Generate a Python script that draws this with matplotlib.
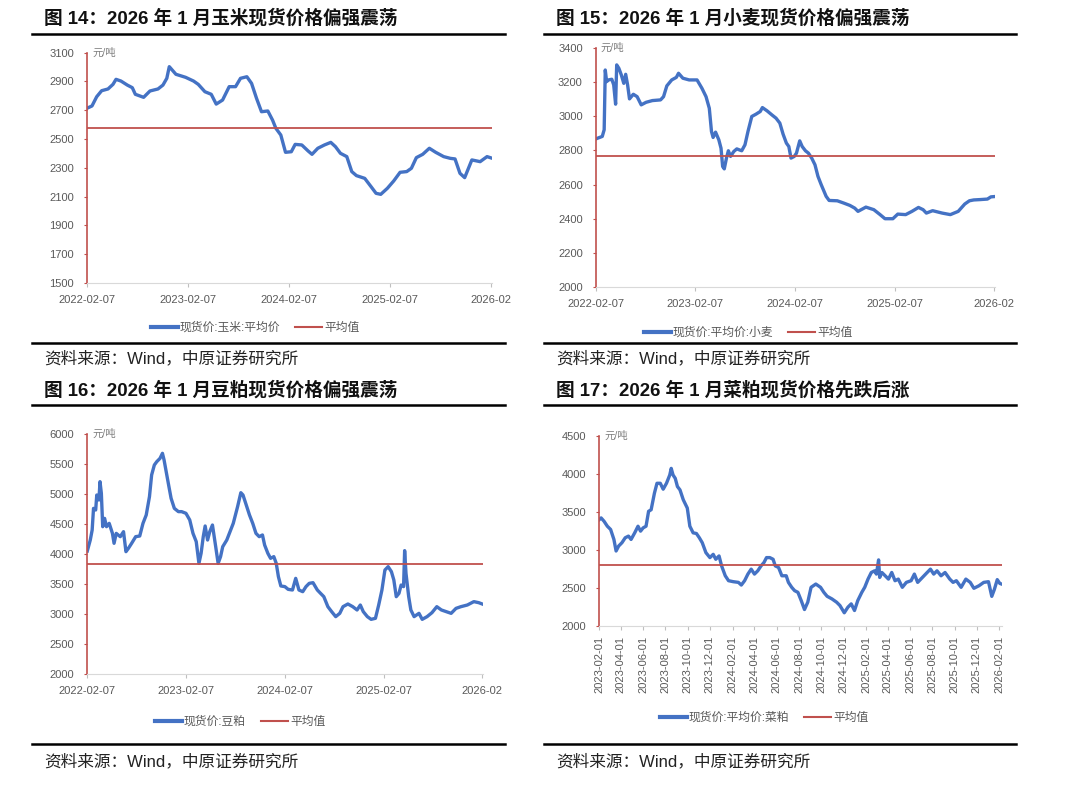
import pandas as pd
import matplotlib.pyplot as plt
from matplotlib.lines import Line2D

plt.rcParams['font.family'] = ['Liberation Sans', 'Noto Sans CJK SC']
plt.rcParams['axes.unicode_minus'] = False

BLUE = '#4472C4'
RED = '#C0504D'
GRAY = '#595959'
W, H = 1080, 795

# ================= DATA =================
# 玉米 (days since 2022-02-07)
corn_day = [0, 17, 34, 52, 75, 93, 104, 122, 145, 163, 174, 204, 227, 256, 274, 288, 297,
            321, 356, 385, 402, 426, 449, 467, 490, 514, 537, 555, 578, 595, 613, 631, 654,
            671, 683, 701, 718, 739, 753, 777, 800, 814, 835, 859, 882, 899, 917, 940, 958,
            975, 1005, 1028, 1046, 1063, 1087, 1110, 1133, 1157, 1174, 1192, 1215, 1239,
            1262, 1291, 1315, 1332, 1350, 1367, 1393, 1423, 1448, 1466]
corn_price = [2715, 2730, 2794, 2836, 2848, 2880, 2915, 2903, 2875, 2857, 2811, 2790, 2834,
              2848, 2875, 2922, 3003, 2950, 2929, 2903, 2880, 2829, 2811, 2743, 2771, 2864,
              2864, 2922, 2933, 2887, 2783, 2690, 2695, 2632, 2575, 2528, 2408, 2412, 2463,
              2459, 2417, 2394, 2436, 2459, 2477, 2447, 2401, 2378, 2274, 2246, 2227, 2169,
              2123, 2116, 2158, 2209, 2269, 2274, 2297, 2371, 2394, 2436, 2408, 2378, 2366,
              2362, 2262, 2232, 2355, 2343, 2378, 2367]
corn_avg = 2580

# 小麦 (days since 2022-02-07)
wheat_day = [0, 23, 30, 34, 39, 46, 58, 65, 72, 76, 84, 93, 102, 109, 116, 123, 137, 151,
             166, 184, 207, 237, 248, 260, 278, 295, 303, 319, 342, 371, 389, 404, 416, 424,
             430, 439, 451, 459, 465, 471, 479, 486, 494, 506, 517, 535, 547, 558, 572, 587,
             603, 611, 628, 646, 661, 675, 687, 699, 708, 716, 728, 736, 748, 757, 769, 780,
             792, 804, 815, 827, 845, 856, 886, 909, 932, 950, 962, 991, 1020, 1043, 1061,
             1090, 1108, 1137, 1160, 1184, 1201, 1213, 1236, 1271, 1301, 1330, 1354, 1371,
             1387, 1410, 1437, 1450, 1465]
wheat_price = [2868, 2882, 2921, 3271, 3203, 3213, 3217, 3184, 3071, 3301, 3281, 3242, 3193,
               3246, 3184, 3102, 3129, 3115, 3067, 3082, 3092, 3096, 3115, 3178, 3213, 3228,
               3252, 3223, 3213, 3213, 3164, 3115, 3047, 2911, 2876, 2907, 2862, 2813, 2706,
               2692, 2755, 2798, 2765, 2794, 2809, 2798, 2833, 2911, 2999, 3012, 3028, 3051,
               3032, 3008, 2989, 2960, 2895, 2843, 2823, 2755, 2765, 2784, 2856, 2823, 2798,
               2784, 2755, 2716, 2648, 2599, 2531, 2507, 2505, 2492, 2478, 2462, 2443, 2468,
               2453, 2424, 2400, 2400, 2427, 2424, 2443, 2466, 2453, 2433, 2447, 2433, 2424,
               2443, 2486, 2505, 2510, 2512, 2515, 2528, 2530]
wheat_avg = 2770

# 豆粕 (days since 2022-02-07)
soy_day = [0, 11, 18, 23, 31, 35, 43, 47, 52, 57, 64, 71, 81, 93, 99, 107, 122, 134, 143,
           152, 164, 179, 194, 206, 218, 230, 238, 248, 257, 269, 278, 284, 293, 302, 310,
           322, 337, 349, 365, 379, 391, 403, 413, 421, 429, 436, 445, 453, 463, 475, 484,
           493, 501, 516, 528, 540, 556, 568, 576, 588, 600, 612, 624, 636, 648, 656, 668,
           678, 690, 699, 707, 716, 731, 743, 759, 771, 783, 797, 809, 821, 835, 851, 863,
           875, 890, 904, 919, 934, 946, 964, 982, 998, 1010, 1021, 1036, 1050, 1066, 1078,
           1090, 1101, 1113, 1125, 1134, 1143, 1153, 1161, 1170, 1174, 1179, 1189, 1197,
           1209, 1227, 1239, 1257, 1275, 1293, 1310, 1328, 1346, 1364, 1382, 1406, 1430,
           1448, 1465]
soy_price = [4050, 4233, 4400, 4761, 4733, 4983, 4900, 5206, 5011, 4455, 4594, 4455, 4511,
             4344, 4178, 4344, 4289, 4372, 4039, 4094, 4178, 4289, 4300, 4511, 4650, 4956,
             5317, 5483, 5539, 5594, 5678, 5567, 5344, 5122, 4928, 4761, 4706, 4706, 4678,
             4567, 4344, 4206, 3844, 4011, 4289, 4467, 4233, 4372, 4483, 4122, 3844, 3956,
             4122, 4233, 4372, 4511, 4789, 5022, 4983, 4817, 4650, 4511, 4344, 4289, 4317,
             4150, 4011, 3928, 3956, 3844, 3622, 3467, 3456, 3411, 3400, 3594, 3400, 3372,
             3456, 3511, 3522, 3400, 3344, 3289, 3122, 3039, 2956, 3011, 3122, 3167, 3122,
             3067, 3150, 3039, 2956, 2911, 2928, 3150, 3400, 3733, 3789, 3706, 3567, 3289,
             3344, 3483, 3456, 4056, 3678, 3289, 3067, 2956, 3011, 2911, 2956, 3022, 3122,
             3067, 3039, 3011, 3094, 3122, 3150, 3206, 3189, 3160]
soy_avg = 3830

# 菜粕 (days since 2023-02-01)
rape_day = [0, 5, 13, 22, 31, 40, 46, 53, 62, 71, 80, 87, 97, 106, 113, 120, 128, 135, 142,
            151, 158, 167, 175, 184, 193, 197, 202, 208, 214, 221, 230, 241, 248, 257, 266,
            274, 282, 292, 303, 312, 319, 328, 335, 345, 354, 367, 381, 389, 398, 407, 416,
            425, 434, 443, 451, 458, 467, 476, 482, 491, 500, 512, 518, 527, 535, 544, 553,
            562, 571, 580, 593, 606, 615, 624, 637, 650, 659, 671, 681, 690, 699, 708, 719,
            727, 736, 745, 754, 759, 765, 768, 774, 783, 792, 801, 810, 819, 830, 841, 854,
            863, 872, 885, 898, 907, 916, 925, 936, 947, 960, 969, 978, 991, 1004, 1016,
            1026, 1040, 1053, 1066, 1075, 1082, 1090, 1097, 1103]
rape_price = [3400, 3422, 3378, 3313, 3270, 3139, 2987, 3052, 3096, 3161, 3183, 3139, 3226,
              3313, 3248, 3291, 3313, 3509, 3530, 3748, 3878, 3878, 3800, 3878, 3987, 4074,
              3987, 3943, 3835, 3791, 3661, 3552, 3313, 3226, 3217, 3161, 3096, 2965, 2900,
              2943, 2878, 2922, 2791, 2661, 2596, 2583, 2574, 2539, 2596, 2683, 2748, 2683,
              2726, 2791, 2835, 2900, 2900, 2878, 2791, 2770, 2661, 2661, 2574, 2509, 2465,
              2443, 2335, 2217, 2313, 2509, 2552, 2509, 2443, 2391, 2357, 2313, 2270, 2174,
              2248, 2291, 2204, 2335, 2443, 2509, 2617, 2704, 2726, 2683, 2870, 2639, 2704,
              2661, 2617, 2704, 2596, 2617, 2509, 2574, 2596, 2683, 2574, 2639, 2704, 2748,
              2683, 2726, 2661, 2704, 2617, 2574, 2596, 2509, 2617, 2574, 2496, 2530, 2574,
              2583, 2390, 2480, 2610, 2560, 2550]
rape_avg = 2800

year_ticks = ['2022-02-07', '2023-02-07', '2024-02-07', '2025-02-07', '2026-02-07']
year_labels = ['2022-02-07', '2023-02-07', '2024-02-07', '2025-02-07', '2026-02']
month_ticks = pd.date_range('2023-02-01', '2026-02-01', freq='2MS')
month_labels = [d.strftime('%Y-%m-%d') for d in month_ticks]


def px_rect(l, t, r, b):
    return [l / W, 1 - b / H, (r - l) / W, (b - t) / H]


def draw_panel(fig, rect, start, days, prices, avg, yticks, xticks, xlabels,
               rotate, series_name, legend_xy):
    ax = fig.add_axes(px_rect(*rect))
    dates = pd.Timestamp(start) + pd.to_timedelta(days, unit='D')
    ax.plot(dates, prices, color=BLUE, lw=2.4, solid_joinstyle='round')
    ax.axhline(avg, color=RED, lw=1.3)
    ax.set_xlim(dates[0], dates[-1])
    ax.set_ylim(yticks[0], yticks[-1])
    ax.set_yticks(yticks)
    ax.set_xticks(pd.to_datetime(xticks))
    ax.set_xticklabels(xlabels, rotation=90 if rotate else 0)
    for s in ['top', 'right']:
        ax.spines[s].set_visible(False)
    ax.spines['left'].set_color(RED)
    ax.spines['left'].set_linewidth(1.2)
    ax.spines['bottom'].set_color('#D9D9D9')
    ax.tick_params(axis='y', length=2.5, color=RED, labelcolor=GRAY, labelsize=8, pad=7)
    ax.tick_params(axis='x', length=3, color='#BFBFBF', labelcolor=GRAY, labelsize=8,
                   pad=4 if rotate else 6)
    ax.text(0.012, 1.0, '元/吨', transform=ax.transAxes, ha='left', va='center',
            fontsize=7.5, color='#7F7F7F')
    handles = [Line2D([], [], color=BLUE, lw=3), Line2D([], [], color=RED, lw=1.5)]
    fig.legend(handles, [series_name, '平均值'], loc='center',
               bbox_to_anchor=(legend_xy[0] / W, 1 - legend_xy[1] / H), ncol=2,
               frameon=False, fontsize=8.5, handlelength=2.3, handletextpad=0.15,
               columnspacing=1.3, labelcolor=GRAY)
    return ax


def frame(fig, x0, x1, y_title, y_rule_top, y_rule_bot, y_src, title):
    fig.text(x0 + 12 / W, 1 - y_title / H, title, fontsize=13.4, fontweight='bold',
             ha='left', va='center', color='#111111')
    for y in [y_rule_top, y_rule_bot]:
        fig.add_artist(Line2D([x0, x1], [1 - y / H, 1 - y / H], color='black', lw=1.8))
    fig.text(x0 + 12 / W, 1 - y_src / H, '资料来源：Wind，中原证券研究所', fontsize=12,
             ha='left', va='center', color='#222222')


fig = plt.figure(figsize=(10.8, 7.95), dpi=100)

frame(fig, 32 / W, 505 / W, 18, 33.5, 342.5, 358, '图 14：2026 年 1 月玉米现货价格偏强震荡')
frame(fig, 544 / W, 1016 / W, 18, 33.5, 342.5, 358, '图 15：2026 年 1 月小麦现货价格偏强震荡')
frame(fig, 32 / W, 505 / W, 390, 405, 743.5, 761, '图 16：2026 年 1 月豆粕现货价格偏强震荡')
frame(fig, 544 / W, 1016 / W, 390, 405, 743.5, 761, '图 17：2026 年 1 月菜粕现货价格先跌后涨')

draw_panel(fig, (87.3, 52.7, 492, 283), '2022-02-07', corn_day, corn_price, corn_avg,
           list(range(1500, 3101, 200)), year_ticks, year_labels, False,
           '现货价:玉米:平均价', (255, 328))
draw_panel(fig, (596, 48, 995, 287), '2022-02-07', wheat_day, wheat_price, wheat_avg,
           list(range(2000, 3401, 200)), year_ticks, year_labels, False,
           '现货价:平均价:小麦', (748, 333))
draw_panel(fig, (87.3, 434, 483.3, 674), '2022-02-07', soy_day, soy_price, soy_avg,
           list(range(2000, 6001, 500)), year_ticks, year_labels, False,
           '现货价:豆粕', (240, 722))
draw_panel(fig, (599.3, 436, 1002, 626), '2023-02-01', rape_day, rape_price, rape_avg,
           list(range(2000, 4501, 500)), month_ticks, month_labels, True,
           '现货价:平均价:菜粕', (764, 718))

fig.savefig('out.png', dpi=100)
